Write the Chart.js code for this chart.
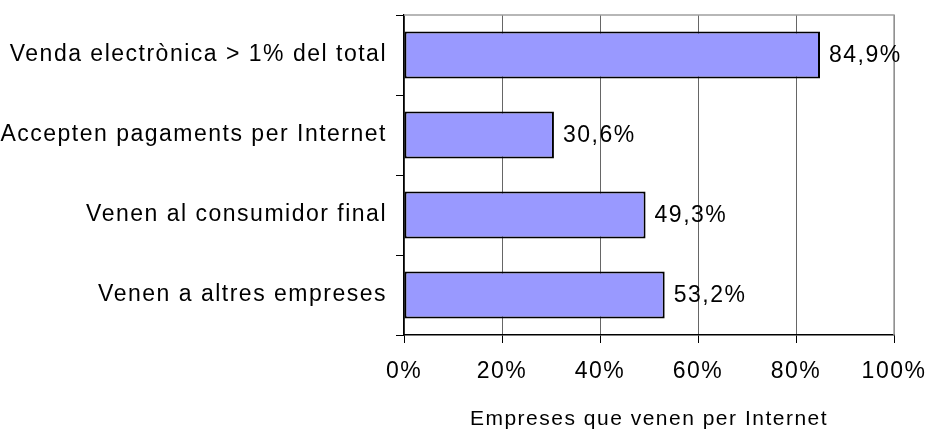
<!DOCTYPE html>
<html>
<head>
<meta charset="utf-8">
<script src="https://cdn.jsdelivr.net/npm/chart.js@4/dist/chart.umd.min.js"></script>
<style>
  html, body { margin: 0; padding: 0; background: #fff; }
  #wrap { width: 927px; height: 430px; }
</style>
</head>
<body>
<div id="wrap"><canvas id="chart" width="927" height="430"></canvas></div>
<script>
// Chart data
const categories = [
    'Venda electrònica > 1% del total',
    'Accepten pagaments per Internet',
    'Venen al consumidor final',
    'Venen a altres empreses'
];
const values = [84.9, 30.6, 49.3, 53.2];
const xTicks = [0, 20, 40, 60, 80, 100];
const xTitle = 'Empreses que venen per Internet';

const FONT = 'Liberation Sans, Arial, sans-serif';
const SPACING = '1.5px';

// The reference text is a little spread out
const spacing = {
    id: 'spacing',
    beforeLayout(chart) { chart.ctx.letterSpacing = SPACING; },
    beforeDraw(chart) { chart.ctx.letterSpacing = SPACING; }
};

// Value labels at bar ends + gray frame top/right
const valueLabels = {
    id: 'valueLabels',
    beforeDatasetsDraw(chart) {
        const { ctx, chartArea: a } = chart;
        ctx.save();
        ctx.strokeStyle = '#a0a0a0';
        ctx.lineWidth = 1.5;
        ctx.beginPath();
        ctx.moveTo(a.left, a.top);
        ctx.lineTo(a.right, a.top);
        ctx.lineTo(a.right, a.bottom);
        ctx.stroke();
        ctx.restore();
    },
    afterDatasetsDraw(chart) {
        const ctx = chart.ctx;
        const meta = chart.getDatasetMeta(0);
        ctx.save();
        ctx.font = '23px ' + FONT;
        ctx.fillStyle = '#000';
        ctx.textBaseline = 'middle';
        ctx.textAlign = 'left';
        meta.data.forEach((bar, i) => {
            ctx.fillText(values[i].toFixed(1).replace('.', ',') + '%', bar.x + 9, bar.y + 1);
        });
        ctx.restore();
    }
};

new Chart(document.getElementById('chart'), {
    type: 'bar',
    data: {
        labels: categories,
        datasets: [{
            data: values,
            backgroundColor: '#9999ff',
            borderColor: '#000',
            borderWidth: 2,
            borderSkipped: false,
            categoryPercentage: 1,
            barPercentage: 0.59
        }]
    },
    options: {
        indexAxis: 'y',
        responsive: false,
        animation: false,
        layout: { padding: { top: 15, right: 33, left: 0, bottom: 0 } },
        plugins: { legend: { display: false }, tooltip: { enabled: false } },
        scales: {
            x: {
                min: 0,
                max: 100,
                afterBuildTicks(scale) {
                    scale.ticks = xTicks.map(v => ({ value: v }));
                },
                afterFit(scale) {
                    scale.height = 95;
                    scale.paddingLeft = 0;
                    scale.paddingRight = 0;
                },
                grid: {
                    color: '#666',
                    tickColor: '#000',
                    lineWidth: 1,
                    tickLength: 8
                },
                border: { color: '#000', width: 1.5 },
                ticks: {
                    color: '#000',
                    font: { size: 23, family: FONT },
                    padding: 15,
                    callback: v => v + '%'
                },
                title: {
                    display: true,
                    text: xTitle,
                    color: '#000',
                    font: { size: 21, family: FONT, lineHeight: 1 },
                    padding: { top: 16, bottom: 0 }
                }
            },
            y: {
                afterFit(scale) {
                    scale.width = 404;
                    scale.paddingTop = 0;
                    scale.paddingBottom = 0;
                },
                grid: {
                    drawOnChartArea: false,
                    tickLength: 8,
                    color: '#000',
                    lineWidth: 1
                },
                border: { color: '#000', width: 1.5 },
                ticks: {
                    color: '#000',
                    font: { size: 23, family: FONT },
                    padding: 9
                }
            }
        }
    },
    plugins: [spacing, valueLabels]
});
</script>
</body>
</html>
